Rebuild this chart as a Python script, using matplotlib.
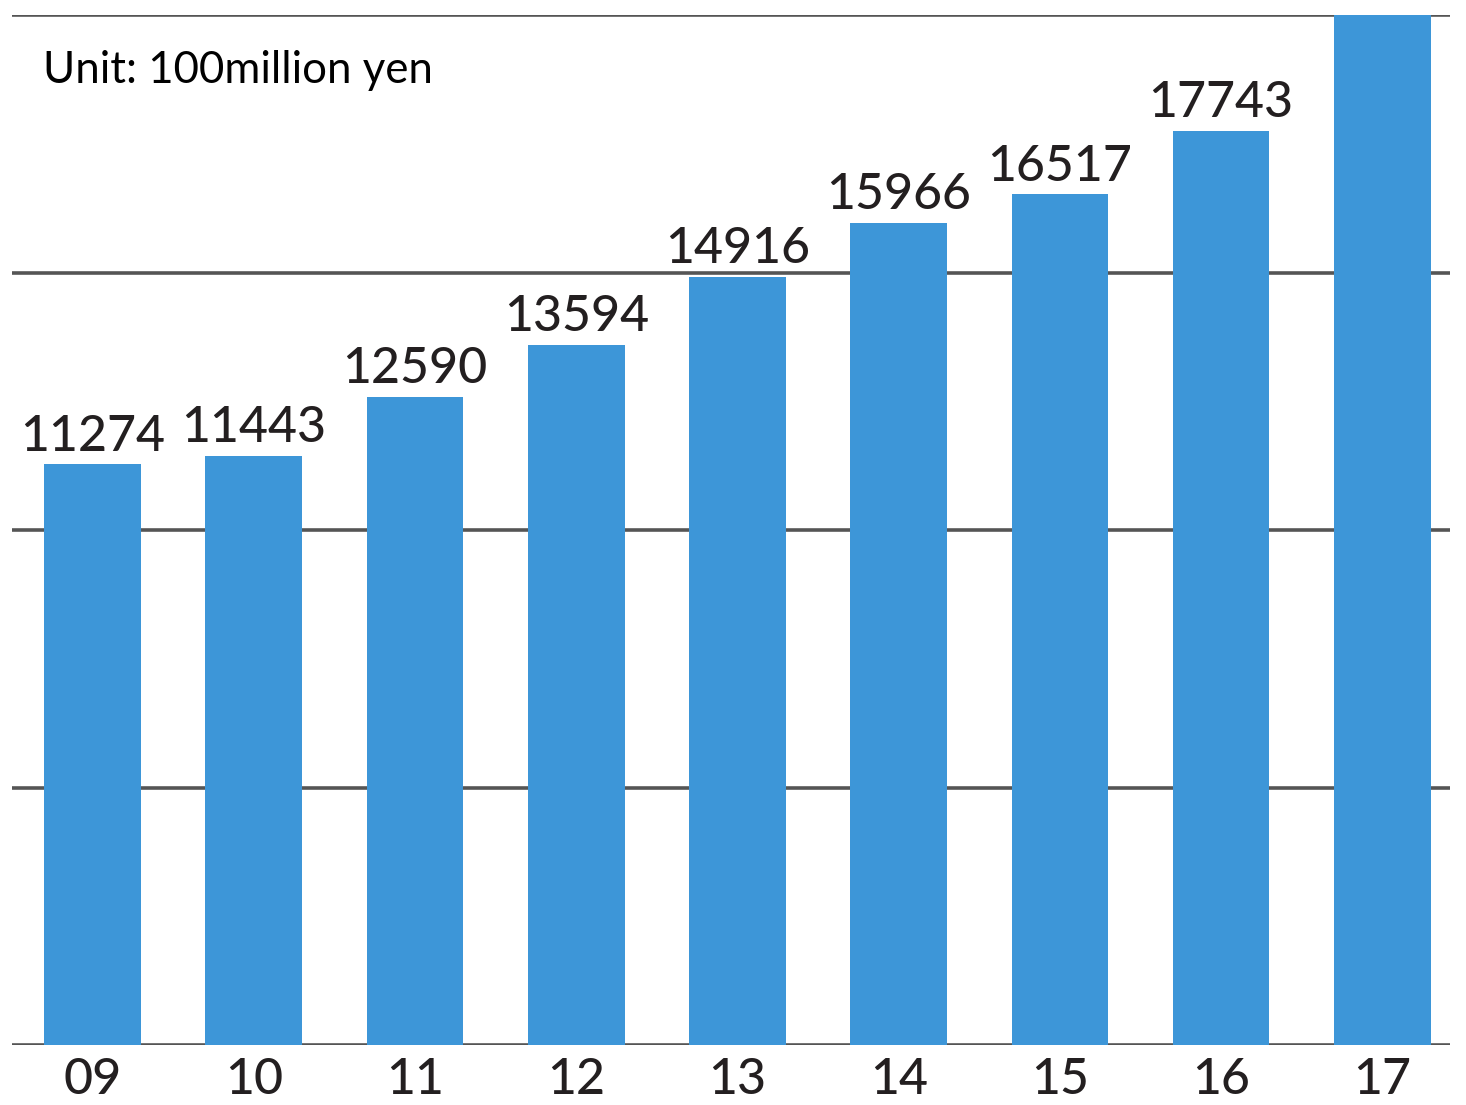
import matplotlib.pyplot as plt
import numpy as np

# sales, unit 100 million yen
years = ['09', '10', '11', '12', '13', '14', '15', '16', '17']
values = [11274, 11443, 12590, 13594, 14916, 15966, 16517, 17743, 20000]
labels = ['11274', '11443', '12590', '13594', '14916', '15966', '16517', '17743', '']

fig = plt.figure(figsize=(14.66, 11.05), dpi=100)
ax = fig.add_axes([0.0082, 0.0543, 0.9809, 0.9321])

x = np.arange(len(years))
ax.bar(x, values, width=0.6, color='#3d96d8', zorder=2)

for yy in [0, 5000, 10000, 15000, 20000]:
    ax.axhline(yy, color='#555555', lw=2.6, zorder=1)

num_font = ['Lato', 'DejaVu Sans']
for xi, v, lab in zip(x, values, labels):
    ax.annotate(lab, (xi, v), xytext=(0, 10), textcoords='offset points',
                ha='center', va='baseline', fontsize=36, color='#231f20',
                family=num_font, fontweight='medium')

ax.set_xlim(-0.5, 8.42)
ax.set_ylim(0, 20000)
ax.set_xticks(x)
ax.set_xticklabels(years, fontsize=36, family=num_font, color='#231f20',
                   fontweight='medium')
ax.tick_params(axis='x', length=0, pad=9)
ax.set_yticks([])
for s in ax.spines.values():
    s.set_visible(False)

fig.text(43 / 1466, 1 - 83 / 1105, 'Unit: 100million yen', fontsize=31.5,
         family=['Lato', 'DejaVu Sans'], va='baseline', ha='left')

plt.savefig('out.png', dpi=100)
